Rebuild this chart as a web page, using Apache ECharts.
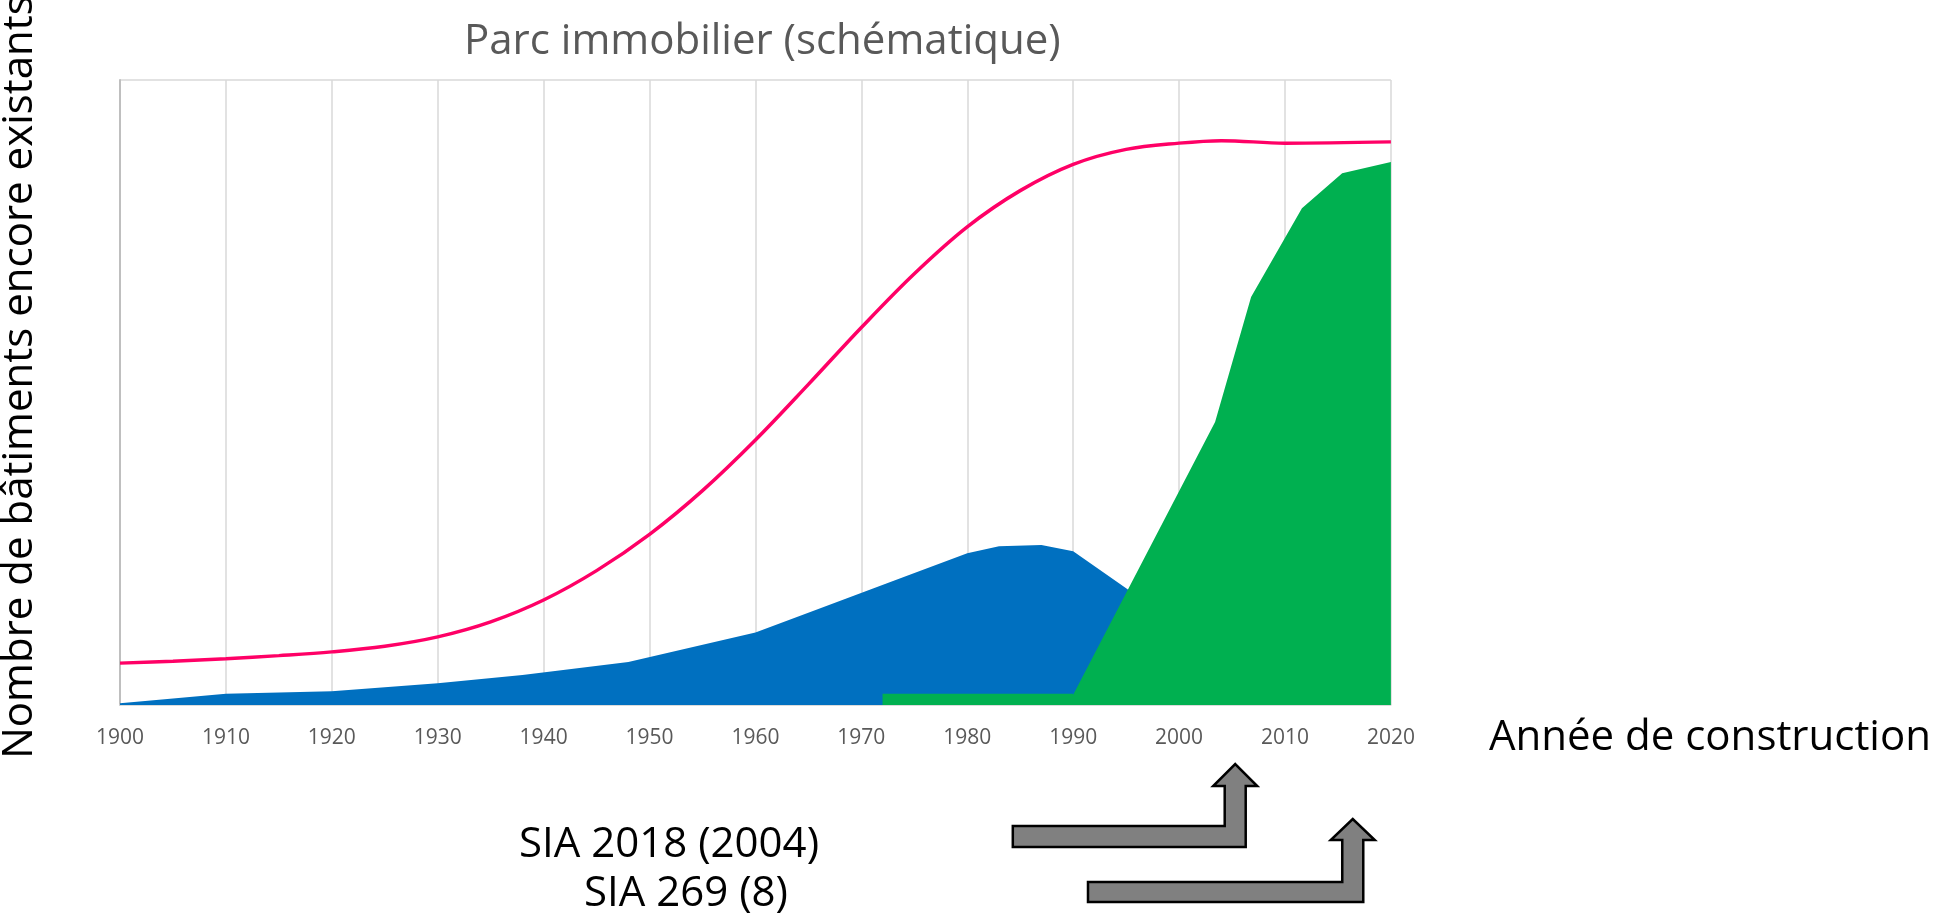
<!DOCTYPE html>
<html>
<head>
<meta charset="utf-8">
<script src="https://cdn.jsdelivr.net/npm/echarts@6/dist/echarts.min.js"></script>
<style>
  html, body { margin: 0; padding: 0; background: #fff; }
  #chart { width: 1934px; height: 916px; }
</style>
</head>
<body>
<div id="chart"></div>
<script>
// années (axe x)
const yearMin = 1900;
const yearMax = 2020;

// parc total (courbe rouge)
const stockYears = [1900, 1905, 1910, 1915, 1920, 1925, 1930, 1935, 1940, 1945, 1950, 1955, 1960, 1965, 1970, 1975, 1980, 1985, 1990, 1995, 2000, 2004, 2010, 2020];
const stockValues = [6.7, 7.0, 7.4, 7.9, 8.5, 9.4, 10.9, 13.3, 16.8, 21.5, 27.3, 34.3, 42.4, 51.3, 60.4, 69.0, 76.5, 82.3, 86.5, 88.9, 89.9, 90.3, 89.9, 90.1];

// bâtiments existants (aire bleue)
const oldYears = [1900, 1910, 1920, 1930, 1938, 1948, 1960, 1966, 1974, 1980, 1983, 1987, 1990, 1995, 2010];
const oldValues = [0.3, 1.8, 2.2, 3.5, 4.8, 6.9, 11.6, 15.4, 20.5, 24.3, 25.4, 25.6, 24.6, 18.7, 0];

// bande verte basse
const stripYears = [1972, 1990];
const stripValues = [1.8, 1.8];

// nouveaux bâtiments (aire verte)
const newYears = [1989.5, 2003.4, 2006.8, 2011.6, 2015.4, 2020];
const newValues = [0, 45.3, 65.3, 79.5, 85.1, 86.9];

// flèches SIA : année de départ et année de la pointe
const arrowLabels = ['SIA 2018 (2004)', 'SIA 269 (8)'];
const arrowStartYears = [1984.3, 1991.4];
const arrowTipYears = [2005.3, 2016.4];

const font = '"Open Sans", "Noto Sans", sans-serif';
const big = 42;

function pairs(xs, ys) {
  return xs.map((x, i) => [x, ys[i]]);
}

function area(name, data, color, z) {
  return {
    name,
    type: 'line',
    data,
    symbol: 'none',
    lineStyle: { width: 0 },
    areaStyle: { color, opacity: 1 },
    z,
  };
}

const chart = echarts.init(document.getElementById('chart'));

chart.setOption({
  animation: false,
  title: {
    text: 'Parc immobilier (schématique)',
    left: 459,
    top: 16,
    textStyle: { fontFamily: font, fontSize: big, fontWeight: 'normal', color: '#595959' },
  },
  grid: { left: 120, right: 540, top: 80, bottom: 211 },
  xAxis: {
    type: 'value',
    min: yearMin,
    max: yearMax,
    interval: 10,
    name: 'Année de construction',
    nameLocation: 'end',
    nameGap: 98,
    nameTextStyle: {
      fontFamily: font, fontSize: big, color: '#000',
      align: 'left', verticalAlign: 'top', lineHeight: 66,
    },
    axisLine: { show: true, lineStyle: { color: '#d9d9d9', width: 1.5 } },
    axisTick: { show: false },
    axisLabel: {
      fontFamily: font, fontSize: 21, color: '#595959', margin: 23,
      formatter: (v) => String(v),
    },
    splitLine: { show: true, lineStyle: { color: '#d9d9d9', width: 1.5 } },
  },
  yAxis: {
    type: 'value',
    min: 0,
    max: 100,
    interval: 100,
    axisLine: { show: true, lineStyle: { color: '#bfbfbf', width: 2 } },
    axisTick: { show: false },
    axisLabel: { show: false },
    splitLine: { show: true, lineStyle: { color: '#d9d9d9', width: 1.5 } },
  },
  series: [
    area('existants', pairs(oldYears, oldValues), '#0070c0', 2),
    area('bande', pairs(stripYears, stripValues), '#00b050', 3),
    area('nouveaux', pairs(newYears, newValues), '#00b050', 4),
    {
      name: 'parc',
      type: 'line',
      data: pairs(stockYears, stockValues),
      symbol: 'none',
      smooth: 0.35,
      lineStyle: { color: '#ff0066', width: 3.5 },
      z: 5,
    },
  ],
});

// flèches coudées (positions x depuis l'axe des années)
const barTops = [826, 882];
const barH = [21, 20];
const headBase = [786, 840];
const tipY = [764, 819];
const textX = [669, 686];
const textY = [845, 894];

const graphics = [{
  type: 'text',
  x: 20,
  y: 377,
  rotation: Math.PI / 2,
  style: {
    text: 'Nombre de bâtiments encore existants',
    fontFamily: font, fontSize: big, fill: '#000',
    align: 'center', verticalAlign: 'middle',
  },
}];

arrowTipYears.forEach((tipYear, i) => {
  const tx = chart.convertToPixel({ xAxisIndex: 0 }, tipYear);
  const sx = chart.convertToPixel({ xAxisIndex: 0 }, arrowStartYears[i]);
  const half = 10.5;
  const headHalf = 22;
  const top = barTops[i];
  const bottom = top + barH[i];
  graphics.push({
    type: 'polygon',
    shape: {
      points: [
        [sx, top], [tx - half, top], [tx - half, headBase[i]], [tx - headHalf, headBase[i]],
        [tx, tipY[i]], [tx + headHalf, headBase[i]], [tx + half, headBase[i]],
        [tx + half, bottom], [sx, bottom],
      ],
    },
    style: { fill: '#808080', stroke: '#000', lineWidth: 2.5, lineJoin: 'miter' },
  });
  graphics.push({
    type: 'text',
    x: textX[i],
    y: textY[i],
    style: {
      text: arrowLabels[i],
      fontFamily: font, fontSize: big, fill: '#000',
      align: 'center', verticalAlign: 'middle',
    },
  });
});

chart.setOption({ graphic: graphics });
</script>
</body>
</html>
